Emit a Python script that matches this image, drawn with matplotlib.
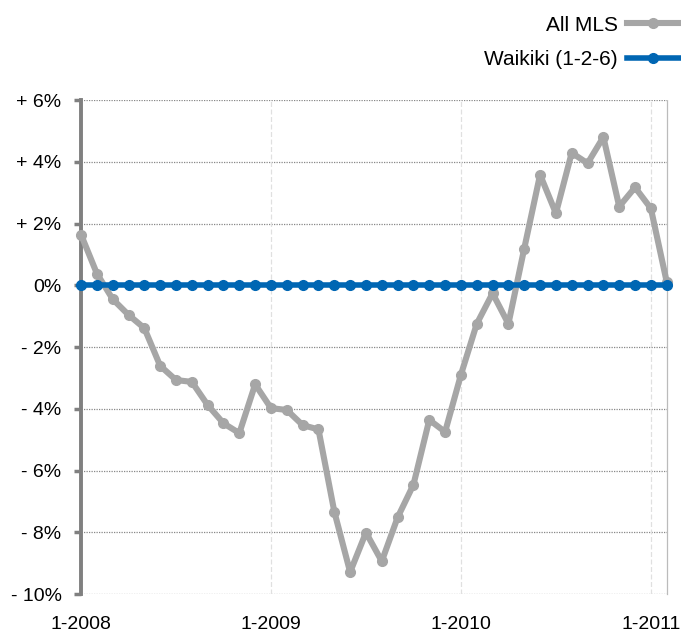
import matplotlib
matplotlib.use('Agg')
import matplotlib.pyplot as plt

plt.rcParams['font.family'] = ['Liberation Sans', 'DejaVu Sans']

# Monthly change, Jan 2008 .. Feb 2011
all_mls = [1.64, 0.38, -0.45, -0.96, -1.39, -2.61, -3.07, -3.13, -3.88, -4.47,
           -4.79, -3.21, -3.98, -4.04, -4.53, -4.67, -7.33, -9.29, -8.01, -8.94,
           -7.52, -6.46, -4.36, -4.75, -2.90, -1.25, -0.26, -1.25, 1.19, 3.58,
           2.33, 4.29, 3.95, 4.80, 2.55, 3.17, 2.49, 0.11]
waikiki = [0.0] * 38
months = list(range(len(all_mls)))

year_ticks = [0, 12, 24, 36]
year_labels = ['1-2008', '1-2009', '1-2010', '1-2011']
y_ticks = [6, 4, 2, 0, -2, -4, -6, -8, -10]
y_labels = ['+ 6%', '+ 4%', '+ 2%', '0%', '- 2%', '- 4%', '- 6%', '- 8%', '- 10%']

gray = '#a6a6a6'
blue = '#0066b3'

fig = plt.figure(figsize=(6.81, 6.37), dpi=100)
ax = fig.add_axes([0.119, 0.0675, 0.860, 0.7755])

ax.plot(months, all_mls, color=gray, lw=4.4, marker='o', ms=7,
        label='All MLS', clip_on=False, zorder=3, solid_joinstyle='round')
ax.plot(months, waikiki, color=blue, lw=4.0, marker='o', ms=7,
        label='Waikiki (1-2-6)', clip_on=False, zorder=4)

ax.set_xlim(0, 37)
ax.set_ylim(-10, 6)
ax.set_xticks(year_ticks)
ax.set_xticklabels(year_labels, fontsize=14)
ax.set_yticks(y_ticks)
ax.set_yticklabels(y_labels, fontsize=14)
ax.tick_params(axis='x', length=0, pad=16)
ax.tick_params(axis='y', length=5, width=2.5, color='#808080', pad=9)

# grid
for y in y_ticks:
    ax.axhline(y, color='#888888', lw=0.9, ls=(0, (1, 1)), zorder=1)
for x in year_ticks[1:]:
    ax.axvline(x, color='#e0e0e0', lw=0.9, ls=(0, (4, 2)), zorder=1)

for s in ['top', 'bottom']:
    ax.spines[s].set_visible(False)
ax.spines['right'].set_color('#bbbbbb')
ax.spines['right'].set_linestyle((0, (1, 1)))
ax.spines['right'].set_linewidth(0.9)
ax.spines['left'].set_color('#808080')
ax.spines['left'].set_linewidth(2.8)

leg = fig.legend(loc='upper right', bbox_to_anchor=(1.025, 1.005), frameon=False,
                 markerfirst=False, fontsize=15, handlelength=2.5,
                 labelspacing=0.75, handletextpad=0.45)

fig.savefig('out.png', dpi=100)
